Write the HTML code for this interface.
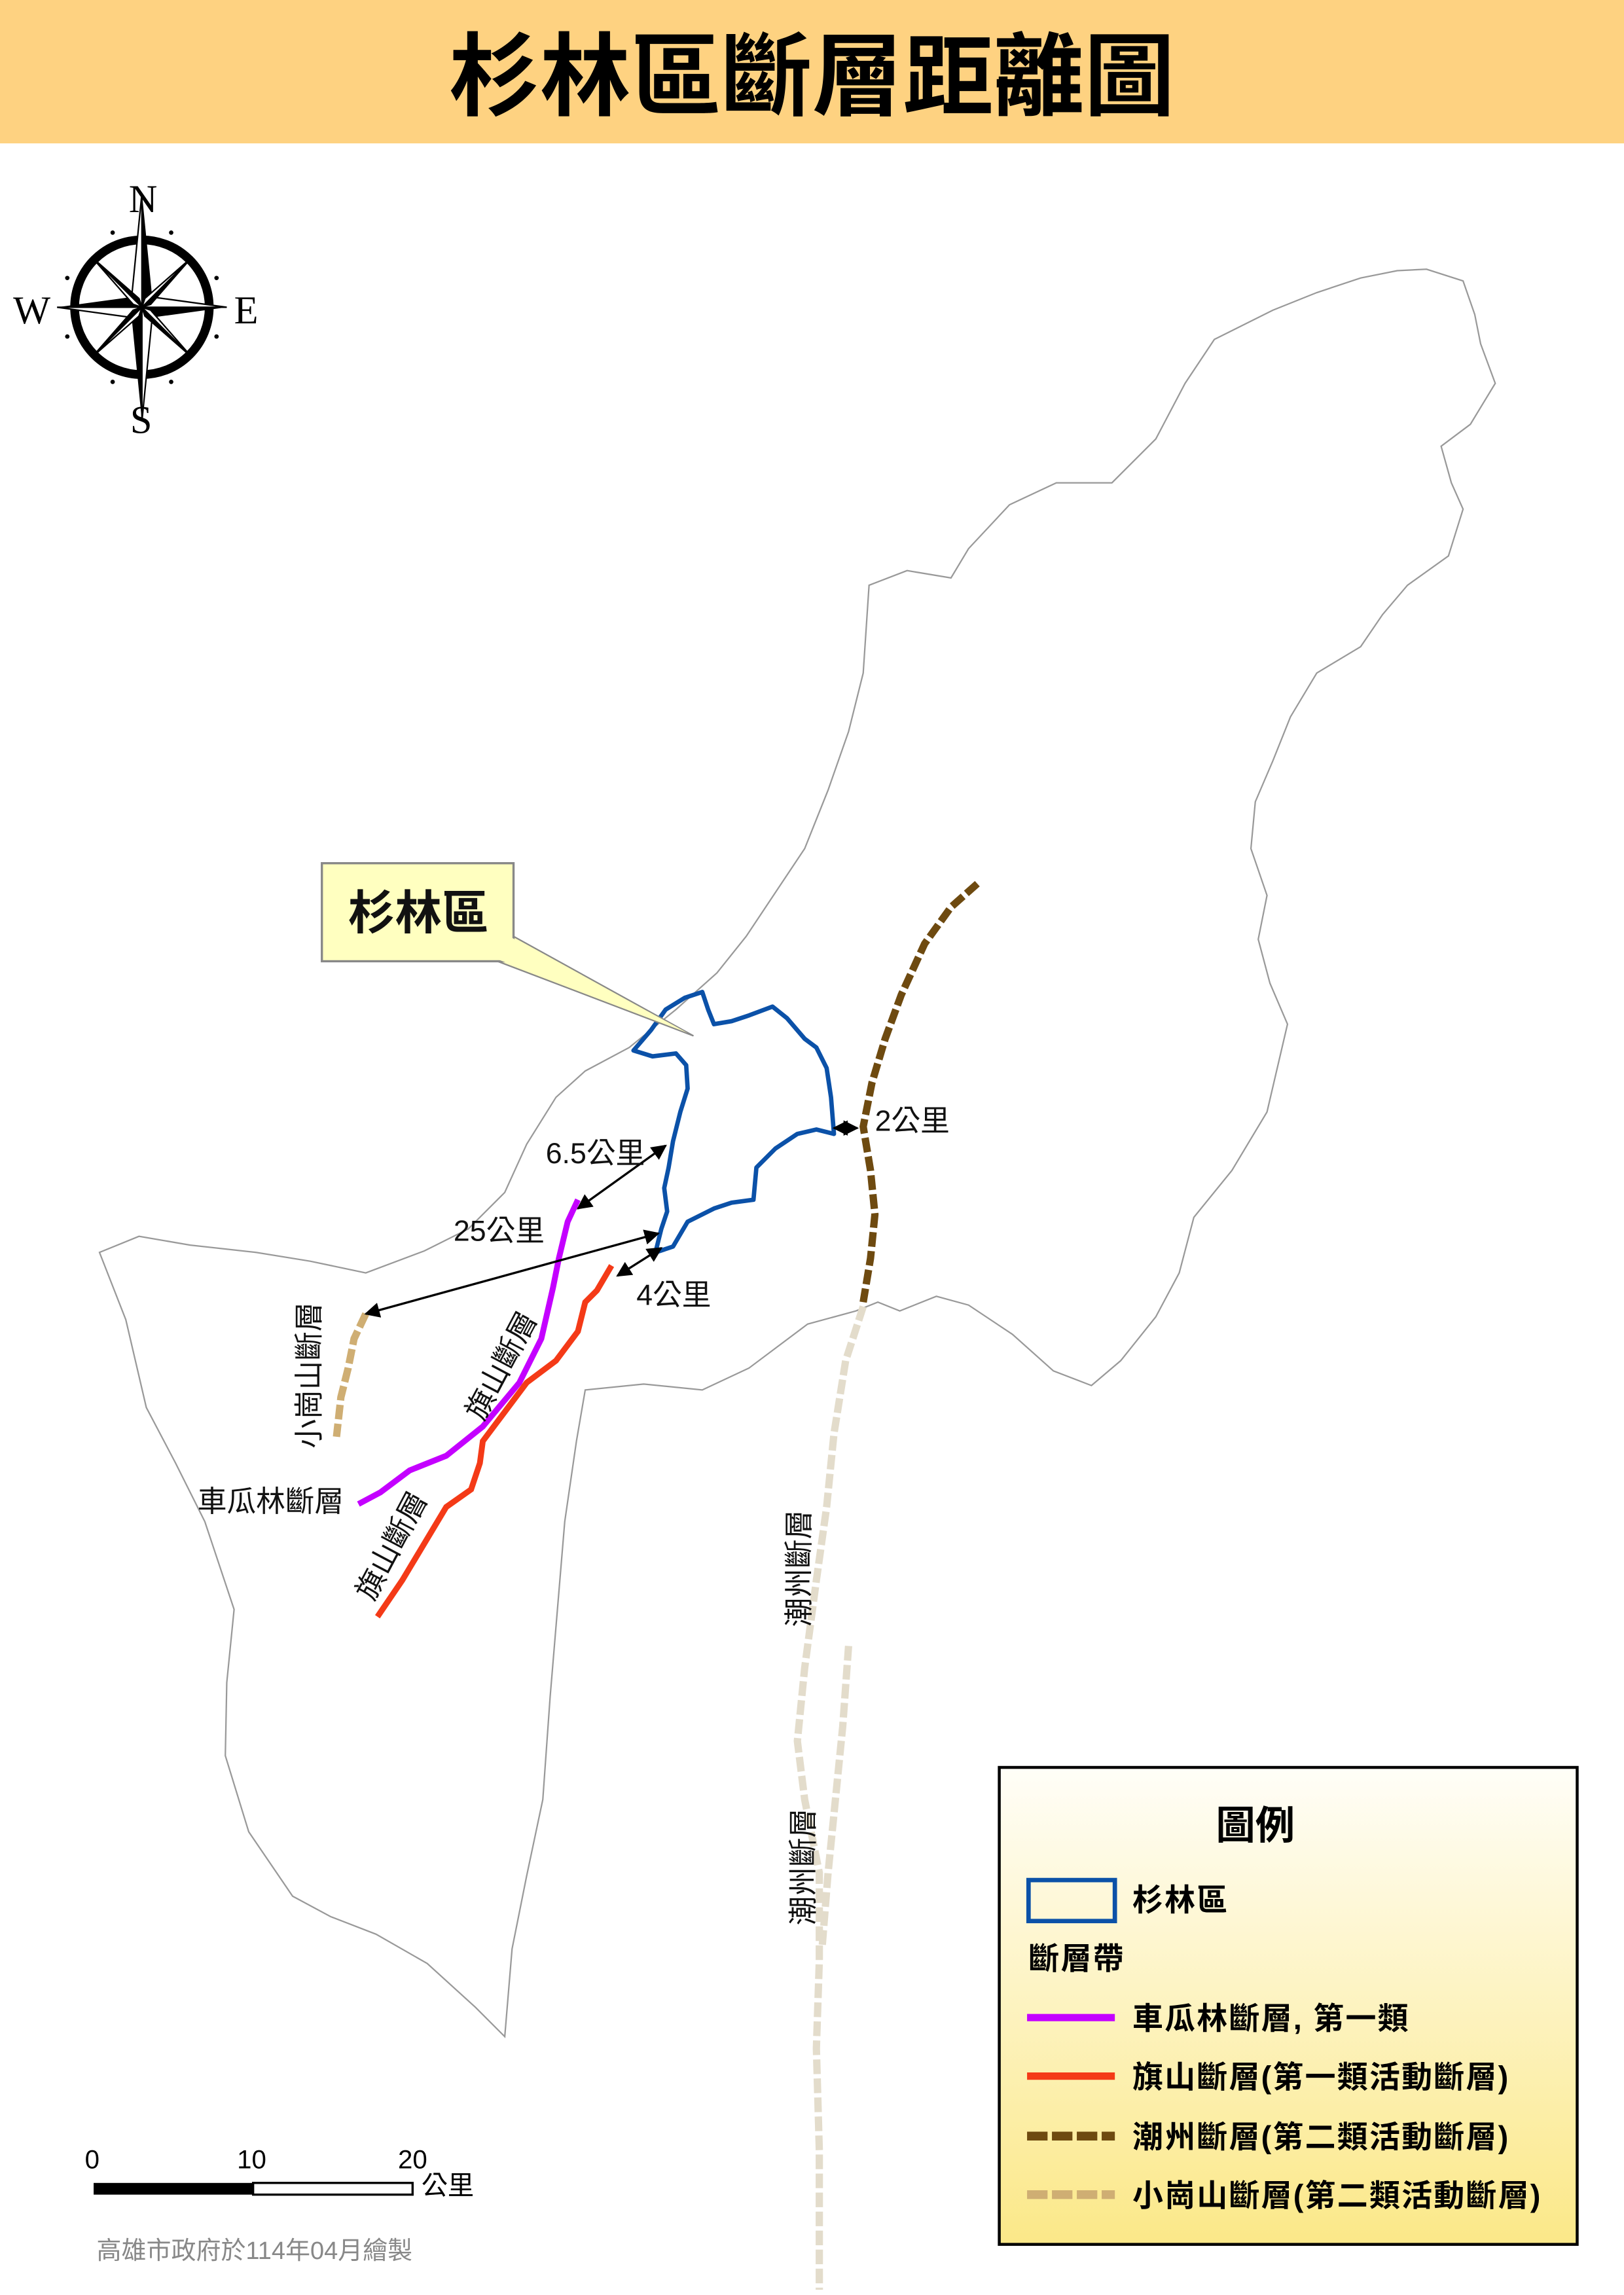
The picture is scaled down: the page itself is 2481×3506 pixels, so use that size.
<!DOCTYPE html>
<html><head><meta charset="utf-8"><style>
html,body{margin:0;padding:0;background:#fff;}
svg{display:block;}
</style></head><body>
<svg width="2481" height="3506" viewBox="0 0 1110 1568.6" preserveAspectRatio="none" xmlns="http://www.w3.org/2000/svg" style="font-family:'Liberation Sans','Noto Sans CJK TC',sans-serif;">
<defs>
<linearGradient id="lg" x1="0" y1="0" x2="0" y2="1"><stop offset="0" stop-color="#fffef8"/><stop offset="1" stop-color="#fbe888"/></linearGradient>
<marker id="ah" viewBox="0 0 10 10" refX="9" refY="5" markerWidth="7" markerHeight="7" orient="auto-start-reverse"><path d="M0,0 L10,5 L0,10 z" fill="#000"/></marker>
</defs>
<rect x="0" y="0" width="1110" height="98" fill="#fed281"/>
<text x="555" y="74" text-anchor="middle" font-size="62" font-weight="bold" fill="#000" style="font-family:'Noto Sans CJK TC',sans-serif">杉林區斷層距離圖</text>

<path d="M955,185 L975,184 L1000,192 L1008,215 L1012,235 L1022,262 L1005,290 L985,305 L992,330 L1000,348 L990,380 L962,400 L945,420 L930,442 L900,460 L882,490 L870,520 L858,548 L855,580 L866,612 L860,642 L868,672 L880,700 L866,760 L842,800 L816,832 L806,870 L790,900 L766,930 L746,947 L720,937 L692,912 L662,892 L640,886 L615,896 L600,890 L585,896 L552,905 L512,935 L480,950 L440,946 L400,950 L394,985 L386,1040 L381,1100 L376,1160 L371,1230 L360,1282 L350,1332 L345,1392 L325,1372 L292,1342 L257,1322 L226,1310 L200,1296 L170,1252 L154,1200 L155,1150 L160,1100 L140,1040 L120,1000 L100,962 L86,902 L68,856 L95,845 L130,851 L175,856 L212,862 L250,870 L290,855 L320,840 L345,815 L360,782 L380,750 L400,732 L430,716 L462,690 L490,665 L510,640 L530,610 L550,580 L566,540 L580,500 L590,460 L594,400 L620,390 L650,395 L662,375 L690,345 L722,330 L760,330 L790,300 L810,262 L830,232 L870,212 L900,200 L930,190 Z" fill="none" stroke="#999" stroke-width="1"/>

<path d="M433,718 L445,704 L455,690 L468,682 L480,678 L484,690 L488,700 L500,698 L512,694 L528,688 L538,696 L550,710 L558,716 L565,730 L568,750 L570,775 L558,772 L545,775 L530,785 L517,798 L515,820 L500,822 L488,826 L470,835 L460,852 L448,856 L452,840 L456,828 L454,812 L457,798 L460,780 L465,760 L470,744 L469,728 L462,720 L446,722 Z" fill="none" stroke="#0b51a8" stroke-width="3" stroke-linejoin="round"/>

<polyline points="590,893 578,930 570,980 565,1030 558,1080 550,1140 545,1190 550,1230 560,1280 560,1340 558,1400 560,1470 560,1565" fill="none" stroke="#e3dccb" stroke-width="5" stroke-dasharray="10,3"/>
<polyline points="580,1125 576,1180 571,1230 566,1280 562,1330" fill="none" stroke="#e3dccb" stroke-width="5" stroke-dasharray="10,3"/>
<polyline points="668,604 650,620 632,645 616,680 605,710 596,740 590,770 595,800 598,830 595,860 590,890" fill="none" stroke="#6e4a10" stroke-width="5" stroke-dasharray="10,3"/>
<polyline points="250,898 242,915 238,935 233,955 230,982" fill="none" stroke="#cfae73" stroke-width="5" stroke-dasharray="10,3"/>
<polyline points="245,1028 260,1020 280,1005 305,995 330,975 355,945 370,915 378,880 382,860 388,835 395,820" fill="none" stroke="#c400ff" stroke-width="4"/>
<polyline points="258,1105 275,1080 290,1055 305,1030 322,1018 328,1000 330,985 345,965 360,945 380,930 395,910 400,890 408,882 418,865" fill="none" stroke="#f43a17" stroke-width="4"/>

<g stroke="#000" stroke-width="1.5" fill="none">
<line x1="395" y1="826" x2="455" y2="783" marker-start="url(#ah)" marker-end="url(#ah)"/>
<line x1="250" y1="898" x2="450" y2="843" marker-start="url(#ah)" marker-end="url(#ah)"/>
<line x1="422" y1="872" x2="452" y2="853" marker-start="url(#ah)" marker-end="url(#ah)"/>
<line x1="570" y1="771" x2="586" y2="771" marker-start="url(#ah)" marker-end="url(#ah)"/>
</g>
<g font-size="20" fill="#111">
<text x="373" y="795">6.5公里</text>
<text x="310" y="848">25公里</text>
<text x="435" y="892">4公里</text>
<text x="598" y="773">2公里</text>
<text x="135" y="1033">車瓜林斷層</text>
<text transform="translate(218,990) rotate(-90)">小崗山斷層</text>
<text transform="translate(330,972) rotate(-62)">旗山斷層</text>
<text transform="translate(255,1095) rotate(-62)">旗山斷層</text>
<text transform="translate(553,1112) rotate(-90)">潮州斷層</text>
<text transform="translate(556,1316) rotate(-90)">潮州斷層</text>
</g>

<polygon points="340,657 351,640 474,708" fill="#ffffc0" stroke="#888" stroke-width="1"/>
<rect x="220" y="590" width="131" height="67" fill="#ffffc0" stroke="#888" stroke-width="1.5"/>
<polygon points="341,656 350,641 470,706" fill="#ffffc0"/>
<text x="286" y="635" text-anchor="middle" font-size="32" font-weight="bold" fill="#111">杉林區</text>

<g transform="translate(97,210)">
<circle r="46" fill="none" stroke="#000" stroke-width="6"/>
<circle r="40" fill="none" stroke="#fff" stroke-width="2"/>
<polygon points="0,-78 7,-7 0,0" fill="#000"/><polygon points="0,-78 -7,-7 0,0" fill="#fff" stroke="#000"/>
<polygon points="0,78 -7,7 0,0" fill="#000"/><polygon points="0,78 7,7 0,0" fill="#fff" stroke="#000"/>
<polygon points="-58,0 -7,-7 0,0" fill="#000"/><polygon points="-58,0 -7,7 0,0" fill="#fff" stroke="#000"/>
<polygon points="58,0 7,7 0,0" fill="#000"/><polygon points="58,0 7,-7 0,0" fill="#fff" stroke="#000"/>
<polygon points="34,-34 6,-2 0,0" fill="#000" stroke="#000"/><polygon points="34,-34 2,-6 0,0" fill="#fff" stroke="#000"/>
<polygon points="-34,34 -6,2 0,0" fill="#000" stroke="#000"/><polygon points="-34,34 -2,6 0,0" fill="#fff" stroke="#000"/>
<polygon points="-34,-34 -2,-6 0,0" fill="#000" stroke="#000"/><polygon points="-34,-34 -6,-2 0,0" fill="#fff" stroke="#000"/>
<polygon points="34,34 2,6 0,0" fill="#000" stroke="#000"/><polygon points="34,34 6,2 0,0" fill="#fff" stroke="#000"/>
<g fill="#000"><circle cx="-20" cy="-51" r="1.5"/><circle cx="20" cy="-51" r="1.5"/><circle cx="-20" cy="51" r="1.5"/><circle cx="20" cy="51" r="1.5"/><circle cx="-51" cy="-20" r="1.5"/><circle cx="51" cy="-20" r="1.5"/><circle cx="-51" cy="20" r="1.5"/><circle cx="51" cy="20" r="1.5"/></g>
</g>
<g font-size="27" fill="#000" style="font-family:'Liberation Serif',serif">
<text x="88" y="145">N</text><text x="89" y="296">S</text><text x="9" y="221">W</text><text x="160" y="221">E</text>
</g>

<rect x="64" y="1492" width="109" height="8" fill="#000"/>
<rect x="173" y="1492" width="109" height="8" fill="#fff" stroke="#000" stroke-width="1.5"/>
<g font-size="18" fill="#000">
<text x="58" y="1482">0</text><text x="162" y="1482">10</text><text x="272" y="1482">20</text><text x="288" y="1500">公里</text>
</g>
<text x="66" y="1544" font-size="17" fill="#888">高雄市政府於114年04月繪製</text>

<rect x="683" y="1208" width="395" height="326" fill="url(#lg)" stroke="#000" stroke-width="2"/>
<text x="858" y="1257" text-anchor="middle" font-size="27" font-weight="bold" fill="#000">圖例</text>
<rect x="703" y="1285" width="59" height="28" fill="none" stroke="#0b51a8" stroke-width="3"/>
<g font-size="21" font-weight="bold" fill="#000" letter-spacing="1">
<text x="774" y="1306">杉林區</text>
<text x="703" y="1346">斷層帶</text>
<text x="774" y="1387">車瓜林斷層, 第一類</text>
<text x="774" y="1427">旗山斷層(第一類活動斷層)</text>
<text x="774" y="1468">潮州斷層(第二類活動斷層)</text>
<text x="774" y="1508">小崗山斷層(第二類活動斷層)</text>
</g>
<line x1="702" y1="1379" x2="762" y2="1379" stroke="#c400ff" stroke-width="5"/>
<line x1="702" y1="1419" x2="762" y2="1419" stroke="#f43a17" stroke-width="5"/>
<line x1="702" y1="1460" x2="762" y2="1460" stroke="#6e4a10" stroke-width="6" stroke-dasharray="14,3"/>
<line x1="702" y1="1500" x2="762" y2="1500" stroke="#cfae73" stroke-width="6" stroke-dasharray="14,3"/>
</svg>
</body></html>
